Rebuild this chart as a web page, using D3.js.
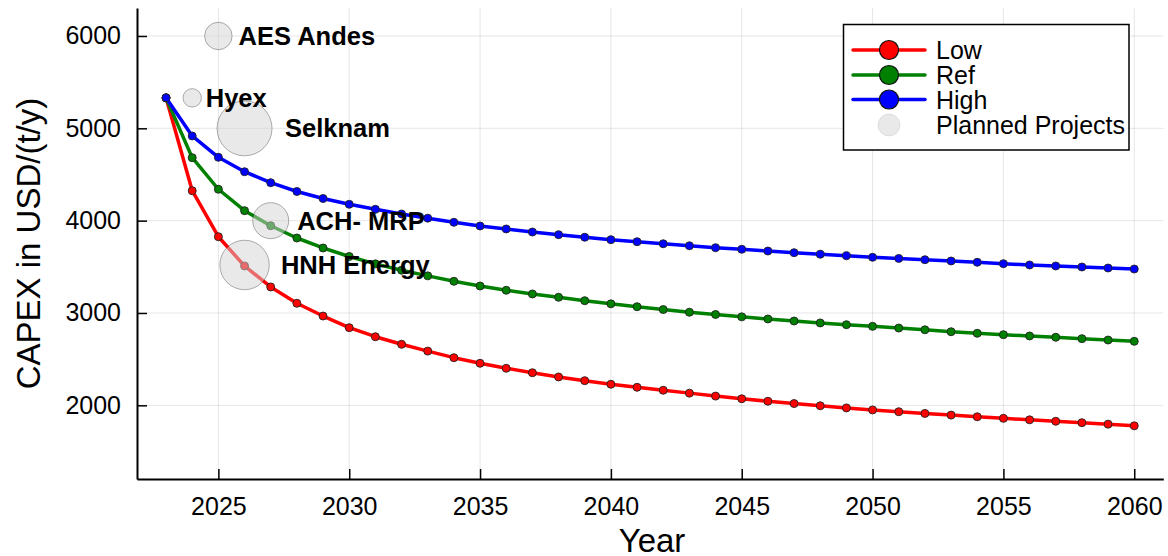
<!DOCTYPE html>
<html>
<head>
<meta charset="utf-8">
<script src="https://cdn.jsdelivr.net/npm/d3@7/dist/d3.min.js"></script>
<style>
  html, body { margin: 0; padding: 0; background: #fff; }
  svg { display: block; font-family: "Liberation Sans", Arial, Helvetica, sans-serif; }
</style>
</head>
<body>
<svg id="chart" width="1168" height="556"></svg>
<script>
// CAPEX learning curves for electrolysis plants, three scenarios
const years = [2023, 2024, 2025, 2026, 2027, 2028, 2029, 2030, 2031, 2032,
  2033, 2034, 2035, 2036, 2037, 2038, 2039, 2040, 2041, 2042,
  2043, 2044, 2045, 2046, 2047, 2048, 2049, 2050, 2051, 2052,
  2053, 2054, 2055, 2056, 2057, 2058, 2059, 2060];

const capexLow = [5330, 4324, 3826, 3509, 3282, 3105, 2967, 2841, 2743, 2661,
  2587, 2516, 2455, 2401, 2353, 2307, 2267, 2228, 2195, 2163,
  2132, 2100, 2071, 2044, 2019, 1995, 1972, 1950, 1931, 1912,
  1894, 1876, 1859, 1843, 1827, 1812, 1796, 1778];

const capexRef = [5330, 4682, 4340, 4108, 3945, 3812, 3704, 3612, 3532, 3463,
  3402, 3343, 3292, 3246, 3206, 3170, 3133, 3099, 3068, 3037,
  3008, 2984, 2958, 2935, 2913, 2892, 2873, 2855, 2837, 2818,
  2797, 2780, 2765, 2751, 2737, 2722, 2707, 2693];

const capexHigh = [5330, 4917, 4686, 4530, 4411, 4316, 4240, 4177, 4123, 4072,
  4027, 3982, 3942, 3910, 3877, 3848, 3820, 3794, 3772, 3750,
  3728, 3707, 3690, 3671, 3653, 3636, 3620, 3603, 3591, 3577,
  3563, 3549, 3534, 3520, 3509, 3498, 3487, 3476];

const seriesNames = ["Low", "Ref", "High"];

// Planned projects: start year, CAPEX and relative plant size
const projectNames = ["AES Andes", "Hyex", "Selknam", "ACH- MRP", "HNH Energy"];
const projectYears = [2025, 2024, 2026, 2027, 2026];
const projectCapex = [6000, 5330, 5000, 4000, 3520];
const projectWeight = [0.5, 0.335, 1.0, 0.655, 0.9];

const xTicks = [2025, 2030, 2035, 2040, 2045, 2050, 2055, 2060];
const yTicks = [2000, 3000, 4000, 5000, 6000];

const colors = { Low: "#ff0000", Ref: "#008000", High: "#0000ff" };

const svg = d3.select("#chart");
const plotL = 137, plotR = 1163.3, plotT = 8, plotB = 479;

const x = d3.scaleLinear().domain([2021.89, 2061.11]).range([plotL, plotR]);
const y = d3.scaleLinear().domain([1202, 6303]).range([plotB, plotT]);
const r = d3.scaleLinear().domain([0, 1]).range([0, 27.5]);

// grid
const grid = svg.append("g");
grid.selectAll("line.gx").data(xTicks).join("line")
  .attr("x1", d => x(d)).attr("x2", d => x(d))
  .attr("y1", plotT).attr("y2", plotB)
  .attr("stroke", "#000").attr("stroke-opacity", 0.1).attr("stroke-width", 1);
grid.selectAll("line.gy").data(yTicks).join("line")
  .attr("y1", d => y(d)).attr("y2", d => y(d))
  .attr("x1", plotL).attr("x2", plotR)
  .attr("stroke", "#000").attr("stroke-opacity", 0.1).attr("stroke-width", 1);

// axes
const xAxis = d3.axisBottom(x).tickValues(xTicks).tickFormat(d3.format("d"))
  .tickSizeInner(-10).tickSizeOuter(0).tickPadding(18);
const yAxis = d3.axisLeft(y).tickValues(yTicks).tickFormat(d3.format("d"))
  .tickSizeInner(-10).tickSizeOuter(0).tickPadding(16);

const gx = svg.append("g").attr("transform", `translate(0,${plotB})`).call(xAxis);
const gy = svg.append("g").attr("transform", `translate(${plotL},0)`).call(yAxis);
[gx, gy].forEach(g => {
  g.select(".domain").attr("stroke", "#000").attr("stroke-width", 2);
  g.selectAll(".tick line").attr("stroke", "#000").attr("stroke-width", 1.5);
  g.selectAll(".tick text").attr("fill", "#000")
    .style("font-size", "25px").style("font-family", "'Liberation Sans', Arial, sans-serif");
});
gx.selectAll(".tick text").attr("dy", "0.71em");

// axis titles
svg.append("text").attr("x", 652).attr("y", 552)
  .attr("text-anchor", "middle").style("font-size", "33px").text("Year");
svg.append("text")
  .attr("transform", `translate(40,${(plotT + plotB) / 2}) rotate(-90)`)
  .attr("text-anchor", "middle").style("font-size", "33px").text("CAPEX in USD/(t/y)");

// scenario lines
const seriesData = [capexLow, capexRef, capexHigh];
const line = d3.line().x((d, i) => x(years[i])).y(d => y(d));
seriesData.forEach((vals, k) => {
  const name = seriesNames[k];
  const g = svg.append("g");
  g.append("path").datum(vals).attr("d", line)
    .attr("fill", "none").attr("stroke", colors[name])
    .attr("stroke-width", 3.5).attr("stroke-linejoin", "round");
  g.selectAll("circle").data(vals).join("circle")
    .attr("cx", (d, i) => x(years[i])).attr("cy", d => y(d)).attr("r", 4)
    .attr("fill", colors[name]).attr("stroke", "#222").attr("stroke-width", 0.9);
});

// planned project bubbles
const projects = projectNames.map((n, i) => ({
  name: n, year: projectYears[i], capex: projectCapex[i], rad: r(projectWeight[i])
}));
svg.append("g").selectAll("circle").data(projects).join("circle")
  .attr("cx", d => x(d.year)).attr("cy", d => y(d.capex)).attr("r", d => d.rad)
  .attr("fill", "#d3d3d3").attr("fill-opacity", 0.5)
  .attr("stroke", "#000").attr("stroke-opacity", 0.3).attr("stroke-width", 1);

svg.append("g").selectAll("text").data(projects).join("text")
  .attr("x", d => x(d.year) + d.rad * 1.47).attr("y", d => y(d.capex))
  .attr("dy", "0.36em")
  .style("font-size", "25.5px").style("font-weight", "bold").text(d => d.name);

// legend
const lg = svg.append("g");
lg.append("rect").attr("x", 843.5).attr("y", 24.5).attr("width", 285.5).attr("height", 125.5)
  .attr("fill", "#fff").attr("stroke", "#000").attr("stroke-width", 1.5);
const rowY = [50, 75, 99.5, 125];
seriesNames.forEach((name, i) => {
  lg.append("line").attr("x1", 853).attr("x2", 925).attr("y1", rowY[i]).attr("y2", rowY[i])
    .attr("stroke", colors[name]).attr("stroke-width", 3.5).attr("stroke-linecap", "round");
  lg.append("circle").attr("cx", 889).attr("cy", rowY[i]).attr("r", 9.5)
    .attr("fill", colors[name]).attr("stroke", "#111").attr("stroke-width", 1.2);
  lg.append("text").attr("x", 936).attr("y", rowY[i]).attr("dy", "0.36em")
    .style("font-size", "25px").text(name);
});
lg.append("circle").attr("cx", 889).attr("cy", rowY[3]).attr("r", 11)
  .attr("fill", "#d3d3d3").attr("fill-opacity", 0.5)
  .attr("stroke", "#000").attr("stroke-opacity", 0.08);
lg.append("text").attr("x", 936).attr("y", rowY[3]).attr("dy", "0.36em")
  .style("font-size", "25px").text("Planned Projects");
</script>
</body>
</html>
